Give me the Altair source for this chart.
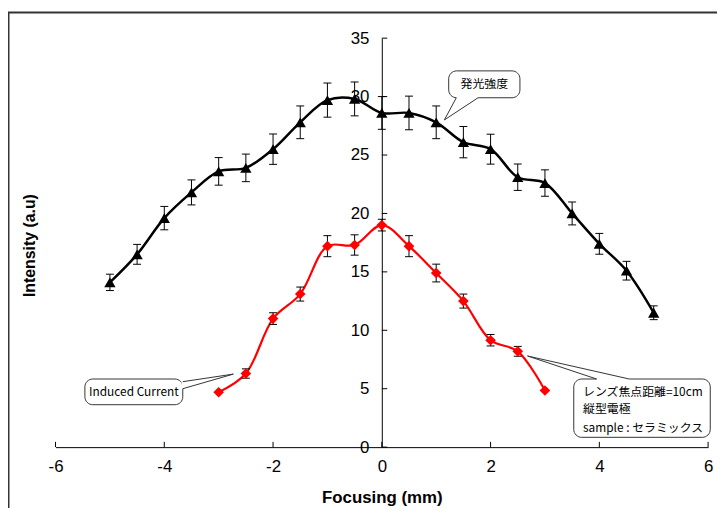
import altair as alt
import pandas as pd

# ---------------- data ----------------
x_black = [-5, -4.5, -4, -3.5, -3, -2.5, -2, -1.5, -1, -0.5, 0, 0.5, 1, 1.5, 2, 2.5, 3, 3.5, 4, 4.5, 5]
y_black = [14.1, 16.5, 19.6, 21.8, 23.6, 23.9, 25.5, 27.8, 29.7, 29.8, 28.6, 28.6, 27.8, 26.1, 25.5, 23.1, 22.6, 20.0, 17.4, 15.1, 11.5]
e_black = [0.7, 0.85, 1.0, 1.07, 1.18, 1.18, 1.3, 1.4, 1.46, 1.45, 1.4, 1.44, 1.4, 1.34, 1.28, 1.13, 1.13, 0.98, 0.89, 0.8, 0.59]

x_red = [-3, -2.5, -2, -1.5, -1, -0.5, 0, 0.5, 1, 1.5, 2, 2.5, 3]
y_red = [4.7, 6.3, 11.0, 13.1, 17.2, 17.3, 19.0, 17.2, 14.9, 12.5, 9.15, 8.2, 4.85]
e_red = [0, 0.4, 0.5, 0.6, 0.9, 0.87, 0.5, 0.9, 0.76, 0.6, 0.49, 0.42, 0]

x_ticks = [-6, -4, -2, 0, 2, 4, 6]
y_ticks = [0, 5, 10, 15, 20, 25, 30, 35]

# callouts (data units)
box_text = ["発光強度", "Induced Current"]
box_x = [1.23, -5.46, 3.53]
box_x2 = [2.54, -3.66, 6.04]
box_y = [29.9, 3.63, 0.84]
box_y2 = [32.2, 5.83, 5.83]
tail_base1_x = [1.37, -3.66, 3.95]
tail_base1_y = [29.9, 5.6, 5.83]
tail_base2_x = [1.77, -3.66, 4.55]
tail_base2_y = [29.9, 5.0, 5.83]
tail_tip_x = [1.15, -2.73, 2.68]
tail_tip_y = [28.0, 6.25, 7.8]
note_lines = ["レンズ焦点距離=10cm", "縦型電極", "sample : セラミックス"]
note_y = [4.75, 3.23, 1.66]

FONT = "Liberation Sans Narrow, Liberation Sans, Arial, sans-serif"
JFONT = "Noto Sans CJK JP, Liberation Sans, sans-serif"

# ---------------- tables ----------------
black = pd.DataFrame({"x": x_black, "y": y_black, "e": e_black})
red = pd.DataFrame({"x": x_red, "y": y_red, "e": e_red})


def err_tables(df, cap=0.073):
    d = df[df.e > 0].copy()
    bars = pd.DataFrame({"x": d.x, "y": d.y - d.e, "y2": d.y + d.e})
    caps = pd.concat([
        pd.DataFrame({"x": d.x - cap, "x2": d.x + cap, "y": d.y - d.e}),
        pd.DataFrame({"x": d.x - cap, "x2": d.x + cap, "y": d.y + d.e}),
    ])
    return bars, caps


bb, bc = err_tables(black)
rb, rc = err_tables(red)

boxes = pd.DataFrame({"x": box_x, "x2": box_x2, "y": box_y, "y2": box_y2})
tails = pd.DataFrame({
    "x": tail_base1_x + tail_base2_x,
    "y": tail_base1_y + tail_base2_y,
    "x2": tail_tip_x + tail_tip_x,
    "y2": tail_tip_y + tail_tip_y,
})
covers = pd.DataFrame({"x": tail_base1_x, "y": tail_base1_y, "x2": tail_base2_x, "y2": tail_base2_y})
xt = pd.DataFrame({"x": x_ticks, "y": [0] * len(x_ticks), "y2": [0.45] * len(x_ticks)})
yt = pd.DataFrame({"x": [0] * len(y_ticks), "x2": [0.1] * len(y_ticks), "y": y_ticks})

xs = alt.Scale(domain=[-6, 6], nice=False, zero=False)
ys = alt.Scale(domain=[0, 35], nice=False, zero=False)

X = alt.X("x:Q", scale=xs, axis=alt.Axis(
    values=x_ticks, tickSize=0, labelPadding=12, labelFont=FONT, labelFontSize=17,
    labelExpr="'' + datum.value",
    labelColor="black", labelFlush=False, domainColor="black", domainWidth=1, grid=False,
    title="Focusing (mm)", titleFont=FONT, titleFontSize=17, titleFontWeight="bold",
    titleColor="black", titleY=51, titleBaseline="middle"))
Y = alt.Y("y:Q", scale=ys, axis=alt.Axis(
    values=y_ticks, tickSize=0, labelPadding=13, labelFont=FONT, labelFontSize=17,
    labelColor="black", labelFlush=False, domainColor="black", domainWidth=1, grid=False,
    offset=-329.5,
    title="Intensity (a.u)", titleFont=FONT, titleFontSize=16, titleFontWeight="bold",
    titleColor="black", titleX=-356, titleY=209, titleAngle=270, titleAlign="center",
    titleBaseline="middle"))

one = pd.DataFrame({"d": [0]})

frame_top = alt.Chart(one).mark_rule(color="#333", strokeWidth=2).encode(
    x=alt.value(-48), x2=alt.value(668), y=alt.value(-26))
frame_left = alt.Chart(one).mark_rule(color="#333", strokeWidth=2).encode(
    x=alt.value(-47.5), y=alt.value(-26), y2=alt.value(480))

xtick = alt.Chart(xt).mark_rule(color="black", strokeWidth=1).encode(x=X, y=Y, y2="y2:Q")
ytick = alt.Chart(yt).mark_rule(color="black", strokeWidth=1).encode(x=X, x2="x2:Q", y=Y)

line_b = alt.Chart(black).mark_line(color="black", strokeWidth=2.5, interpolate="catmull-rom").encode(x=X, y=Y)
line_r = alt.Chart(red).mark_line(color="#ff0000", strokeWidth=2.2, interpolate="catmull-rom").encode(x=X, y=Y)

eb_b = alt.Chart(bb).mark_rule(color="black", strokeWidth=1).encode(x=X, y=Y, y2="y2:Q")
ec_b = alt.Chart(bc).mark_rule(color="black", strokeWidth=1).encode(x=X, x2="x2:Q", y=Y)
eb_r = alt.Chart(rb).mark_rule(color="black", strokeWidth=1).encode(x=X, y=Y, y2="y2:Q")
ec_r = alt.Chart(rc).mark_rule(color="black", strokeWidth=1).encode(x=X, x2="x2:Q", y=Y)

pt_b = alt.Chart(black).mark_point(shape="triangle-up", filled=True, size=130, color="black", opacity=1).encode(x=X, y=Y)
pt_r = alt.Chart(red).mark_point(shape="diamond", filled=True, size=115, color="#ff0000", opacity=1).encode(x=X, y=Y)

box = alt.Chart(boxes).mark_rect(cornerRadius=8, fill="white", stroke="#333", strokeWidth=1).encode(
    x=X, x2="x2:Q", y=Y, y2="y2:Q")
cover = alt.Chart(covers).mark_rule(color="white", strokeWidth=2.5).encode(x=X, y=Y, x2="x2:Q", y2="y2:Q")
tail = alt.Chart(tails).mark_rule(color="#333", strokeWidth=1).encode(x=X, y=Y, x2="x2:Q", y2="y2:Q")

lbl = pd.DataFrame({"x": [(box_x[0] + box_x2[0]) / 2, (box_x[1] + box_x2[1]) / 2],
                    "y": [(box_y[0] + box_y2[0]) / 2, (box_y[1] + box_y2[1]) / 2],
                    "t": box_text})
lbl_text = alt.Chart(lbl).mark_text(font=JFONT, fontSize=12, color="black", align="center",
                                    baseline="middle").encode(x=X, y=Y, text="t:N")
notes = pd.DataFrame({"x": [3.70] * 3, "y": note_y, "t": note_lines})
note_text = alt.Chart(notes).mark_text(font=JFONT, fontSize=12, color="black", align="left",
                                       baseline="middle").encode(x=X, y=Y, text="t:N")

chart = alt.layer(
    xtick, ytick, line_b, line_r, eb_b, ec_b, eb_r, ec_r, pt_b, pt_r,
    box, cover, tail, lbl_text, note_text, frame_top, frame_left,
).properties(
    width=659, height=413,
    autosize=alt.AutoSizeParams(type="none"),
    padding={"left": 48, "top": 28, "right": 9, "bottom": 59},
    background="white",
).configure_view(stroke=None)

chart.save("out.html", embed_options={"renderer": "svg", "actions": False})
